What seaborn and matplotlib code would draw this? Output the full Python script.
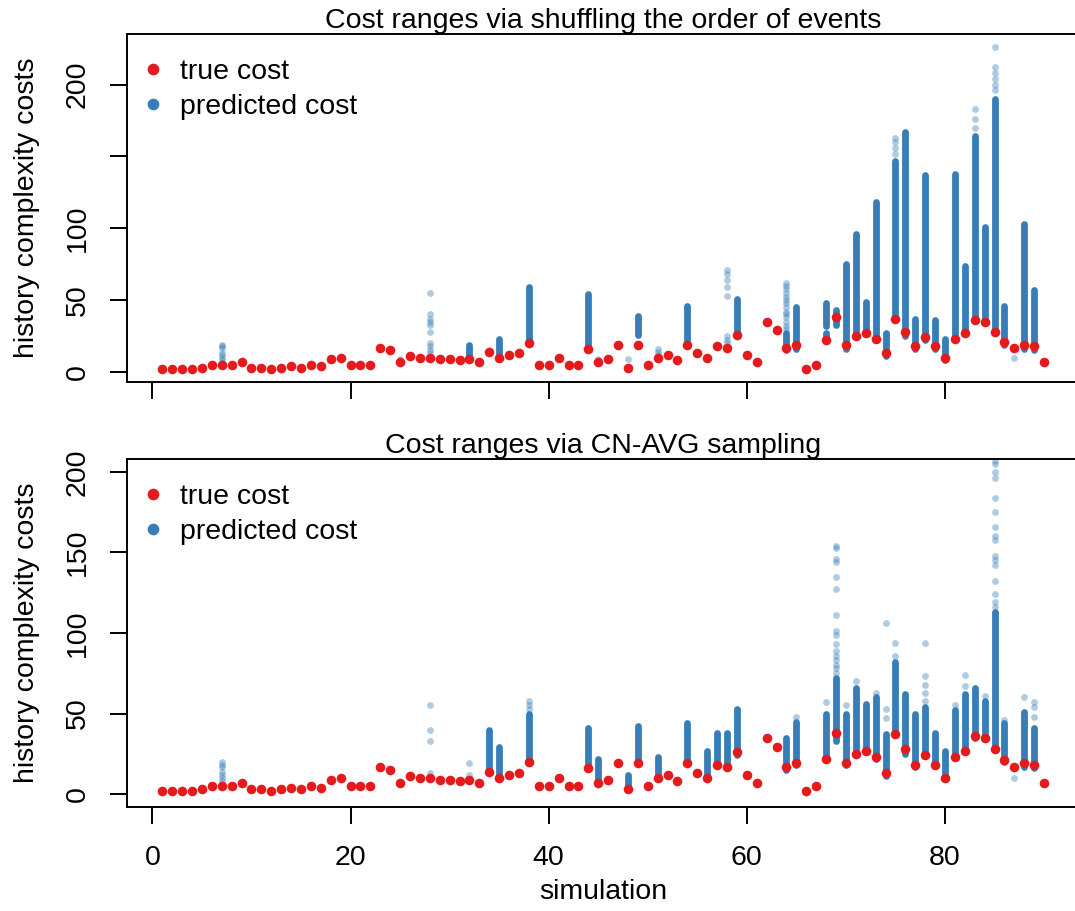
import matplotlib
matplotlib.use("Agg")
import matplotlib.pyplot as plt
from matplotlib.lines import Line2D
import seaborn as sns
import pandas as pd
import numpy as np

# ---------------- data ----------------
sim = list(range(1, 91))
true_cost = [2, 2, 2, 2, 3, 5, 5, 5, 7, 3,
             3, 2, 3, 4, 3, 5, 4, 9, 10, 5,
             5, 5, 17, 15, 7, 11, 10, 10, 9, 9,
             8, 9, 7, 14, 10, 12, 13, 20, 5, 5,
             10, 5, 5, 16, 7, 9, 19, 3, 19, 5,
             10, 12, 8, 19, 13, 10, 18, 17, 26, 12,
             7, 35, 29, 17, 19, 2, 5, 22, 38, 19,
             25, 27, 23, 13, 37, 28, 18, 24, 18, 10,
             23, 27, 36, 35, 28, 21, 17, 19, 18, 7]

# shuffling: dense ranges of predicted costs
shuf_seg_sim = [32, 35, 38, 44, 49, 54, 59, 64, 65, 68, 68, 69, 70, 71, 72, 73, 74, 75, 76, 77,
                78, 79, 80, 81, 82, 83, 84, 85, 86, 88, 89]
shuf_seg_lo = [11, 12, 20, 16, 26, 20, 26, 15, 16, 32, 22, 33, 16, 26, 27, 22, 11, 38, 25, 16,
               22, 16, 8, 23, 27, 36, 35, 27, 19, 16, 15]
shuf_seg_hi = [19, 23, 59, 54, 39, 46, 51, 27, 45, 48, 27, 43, 75, 96, 49, 118, 27, 147, 167, 37,
               137, 36, 23, 138, 74, 164, 101, 190, 46, 103, 57]
# shuffling: sparse predicted costs
shuf_pt_sim = ([7] * 8 + [25] + [28] * 10 + [45, 48] + [51] * 3 + [58] * 8 + [64] * 14
               + [75] * 4 + [83] * 3 + [85] * 6 + [87])
shuf_pt_val = ([6, 8, 10, 12, 13, 17, 18, 19] + [9]
               + [55, 40, 37, 35, 33, 28, 20, 18, 15, 13] + [9, 9] + [12, 14, 16]
               + [71, 68, 64, 59, 53, 25, 22, 20]
               + [62, 60, 58, 55, 52, 50, 48, 45, 42, 40, 38, 35, 32, 30]
               + [163, 160, 156, 152] + [183, 176, 170]
               + [226, 212, 208, 204, 200, 196] + [10])

# CN-AVG: dense ranges of predicted costs
cn_seg_sim = [34, 35, 38, 44, 45, 48, 49, 51, 54, 56, 57, 58, 59, 64, 65, 68, 69, 70, 71, 72,
              73, 74, 75, 76, 77, 78, 79, 80, 81, 82, 83, 84, 85, 86, 88, 89]
cn_seg_lo = [15, 10, 20, 16, 8, 4, 19, 10, 19, 10, 18, 17, 24, 15, 18, 22, 33, 18, 25, 27,
             22, 11, 38, 25, 17, 24, 18, 10, 23, 27, 35, 35, 28, 20, 17, 16]
cn_seg_hi = [40, 29, 50, 41, 22, 12, 42, 23, 44, 27, 38, 38, 53, 35, 45, 50, 72, 50, 66, 56,
             60, 37, 82, 62, 50, 54, 38, 27, 52, 62, 66, 58, 113, 44, 51, 41]
# CN-AVG: sparse predicted costs
cn_pt_sim = ([7] * 7 + [28] * 4 + [32] * 2 + [38] * 3 + [65, 68] + [69] * 16 + [70, 71, 73]
             + [74] * 3 + [75] * 2 + [78] * 5 + [81] + [82] * 2 + [84] + [85] * 16
             + [86, 87, 88] + [89] * 3)
cn_pt_val = ([8, 10, 12, 14, 17, 18, 20] + [55, 40, 33, 13] + [19, 12] + [58, 55, 53]
             + [48, 57]
             + [154, 153, 146, 144, 135, 127, 111, 101, 99, 93, 89, 86, 83, 80, 78, 75]
             + [55, 70, 63] + [106, 53, 47] + [94, 86] + [94, 73, 68, 63, 58] + [55]
             + [74, 67] + [61]
             + [207, 205, 200, 196, 184, 175, 166, 160, 158, 148, 145, 142, 132, 124, 119, 116]
             + [46, 10, 60] + [57, 54, 48])

x_ticks = [0, 20, 40, 60, 80]
top_yticks = [0, 50, 100, 150, 200]
top_ylabels = ["0", "50", "100", "", "200"]
bot_yticks = [0, 50, 100, 150, 200]
bot_ylabels = ["0", "50", "100", "150", "200"]

titles = ["Cost ranges via shuffling the order of events", "Cost ranges via CN-AVG sampling"]
legend_labels = ["true cost", "predicted cost"]

RED = "#E41A1C"
BLUE = "#377EB8"
FS = 20.5

# ---------------- style ----------------
sns.set_theme(style="ticks")
plt.rcParams["font.family"] = ["Liberation Sans", "DejaVu Sans"]
plt.rcParams["axes.linewidth"] = 1.4
plt.rcParams["xtick.major.width"] = 1.4
plt.rcParams["ytick.major.width"] = 1.4
plt.rcParams["xtick.major.size"] = 12.2
plt.rcParams["ytick.major.size"] = 12.2
plt.rcParams["xtick.color"] = "black"
plt.rcParams["ytick.color"] = "black"
plt.rcParams["xtick.labelcolor"] = "black"
plt.rcParams["ytick.labelcolor"] = "black"
plt.rcParams["axes.edgecolor"] = "black"
plt.rcParams["axes.labelcolor"] = "black"
plt.rcParams["text.color"] = "black"

fig = plt.figure(figsize=(10.75, 9.11), dpi=100)
ax_top = fig.add_axes([0.1181, 0.5807, 0.886, 0.3820])
ax_bot = fig.add_axes([0.1181, 0.1142, 0.886, 0.3820])

panels = [
    (ax_top, shuf_seg_sim, shuf_seg_lo, shuf_seg_hi, shuf_pt_sim, shuf_pt_val,
     (-7.0, 235.3), top_yticks, top_ylabels, titles[0]),
    (ax_bot, cn_seg_sim, cn_seg_lo, cn_seg_hi, cn_pt_sim, cn_pt_val,
     (-8.0, 208.0), bot_yticks, bot_ylabels, titles[1]),
]

true_df = pd.DataFrame({"simulation": sim, "cost": true_cost})

for ax, ssim, slo, shi, psim, pval, ylim, yt, ytl, title in panels:
    seg_df = pd.DataFrame({"simulation": ssim, "lo": slo, "hi": shi})
    pt_df = pd.DataFrame({"simulation": psim, "cost": pval})
    ax.vlines(seg_df["simulation"], seg_df["lo"], seg_df["hi"], colors=BLUE,
              linewidth=4.9, capstyle="round", zorder=2)
    sns.scatterplot(data=pt_df, x="simulation", y="cost", ax=ax, color=BLUE,
                    alpha=0.4, s=24, linewidth=0, zorder=2, legend=False)
    sns.scatterplot(data=true_df, x="simulation", y="cost", ax=ax, color=RED,
                    s=48, linewidth=0, zorder=3, legend=False)
    ax.set_xlim(-2.56, 93.56)
    ax.set_ylim(*ylim)
    ax.set_xticks(x_ticks)
    ax.set_yticks(yt)
    ax.set_yticklabels(ytl, rotation=90, va="center", fontsize=FS)
    ax.tick_params(axis="y", pad=14)
    ax.tick_params(axis="x", pad=15, labelsize=FS)
    ax.set_ylabel("history complexity costs", fontsize=FS, labelpad=18)
    ax.set_xlabel("")
    ax.set_title(title, fontsize=FS, pad=3)
    for sp in ax.spines.values():
        sp.set_visible(True)
        sp.set_color("black")
    handles = [Line2D([], [], marker="o", linestyle="", color=RED, markersize=7.4),
               Line2D([], [], marker="o", linestyle="", color=BLUE, markersize=7.4)]
    ax.legend(handles, legend_labels, loc="upper left", bbox_to_anchor=(0.0123, 0.927),
              frameon=False, fontsize=FS, borderpad=0, borderaxespad=0,
              handlelength=1.0, handletextpad=0.45, labelspacing=0.3)

ax_top.set_xticklabels([])
ax_bot.set_xlabel("simulation", fontsize=FS, labelpad=6)

fig.savefig("out.png", dpi=100)
